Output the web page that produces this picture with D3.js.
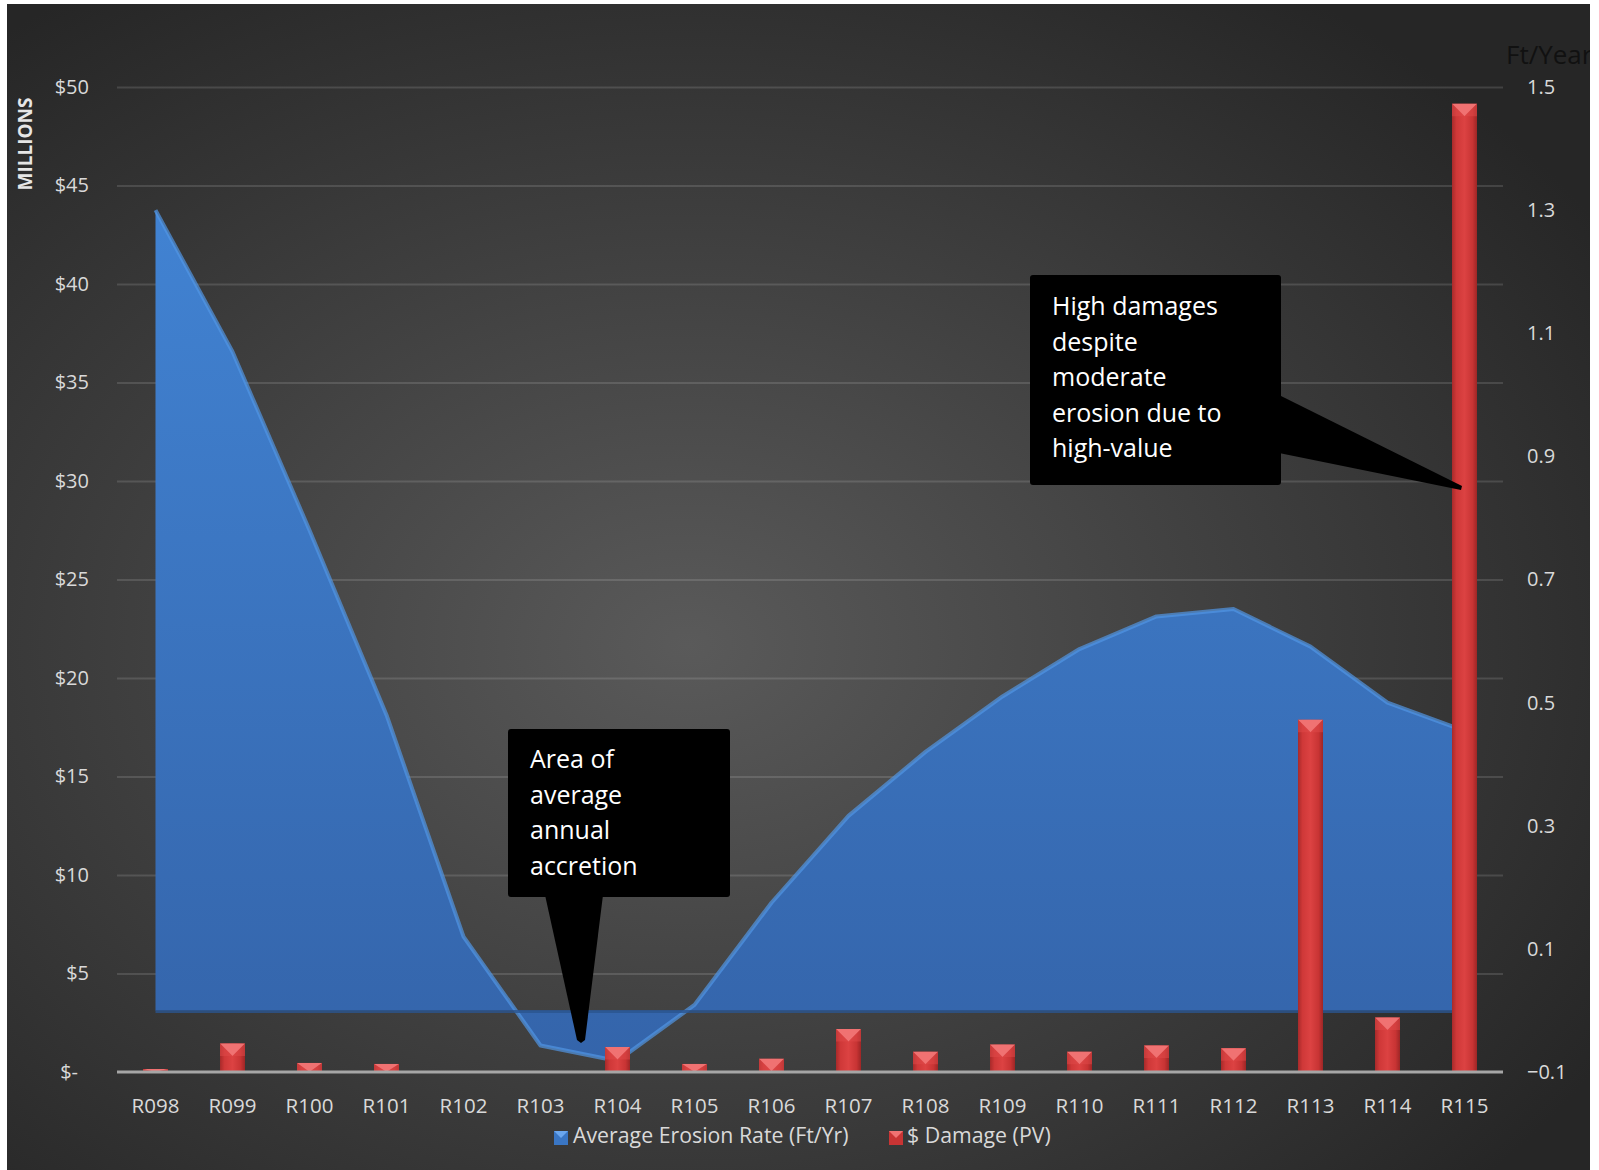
<!DOCTYPE html>
<html>
<head>
<meta charset="utf-8">
<script src="https://cdn.jsdelivr.net/npm/d3@7"></script>
<style>
  html, body { margin: 0; padding: 0; background: #fff; }
  svg text { font-family: "Open Sans", sans-serif; }
</style>
</head>
<body>
<div id="chart"></div>
<script>
// profiles along the beach
const profiles = ["R098", "R099", "R100", "R101", "R102", "R103", "R104", "R105", "R106",
                  "R107", "R108", "R109", "R110", "R111", "R112", "R113", "R114", "R115"];
// average erosion rate, ft/yr (right axis)
const erosionRate = [1.30, 1.07, 0.78, 0.48, 0.12, -0.057, -0.082, 0.009, 0.175,
                     0.316, 0.42, 0.51, 0.587, 0.64, 0.652, 0.591, 0.500, 0.454];
// $ damage, present value, millions (left axis)
const damage = [0.15, 1.45, 0.46, 0.41, 0, 0, 1.27, 0.41, 0.67,
                2.18, 1.03, 1.39, 1.03, 1.35, 1.21, 17.88, 2.77, 49.15];

const leftTicks = [0, 5, 10, 15, 20, 25, 30, 35, 40, 45, 50];
const rightTicks = [-0.1, 0.1, 0.3, 0.5, 0.7, 0.9, 1.1, 1.3, 1.5];
const seriesNames = ["Average Erosion Rate (Ft/Yr)", "$ Damage (PV)"];
const notes = [
  ["Area of", "average", "annual", "accretion"],
  ["High damages", "despite", "moderate", "erosion due to", "high-value"]
];

const width = 1599, height = 1170;
const m = { left: 117, right: 1503, top: 87, bottom: 1072 };

const svg = d3.select("#chart").append("svg")
  .attr("width", width)
  .attr("height", height);

const defs = svg.append("defs");

const bg = defs.append("radialGradient")
  .attr("id", "bg")
  .attr("cx", "43%").attr("cy", "55%").attr("r", "68%");
bg.append("stop").attr("offset", "0%").attr("stop-color", "#5a5a5a");
bg.append("stop").attr("offset", "100%").attr("stop-color", "#262626");

const areaGrad = defs.append("linearGradient")
  .attr("id", "areaGrad")
  .attr("gradientUnits", "userSpaceOnUse")
  .attr("x1", 0).attr("y1", m.top).attr("x2", 0).attr("y2", m.bottom);
areaGrad.append("stop").attr("offset", "0%").attr("stop-color", "#4387d8");
areaGrad.append("stop").attr("offset", "100%").attr("stop-color", "#3464aa");

const barGrad = defs.append("linearGradient")
  .attr("id", "barGrad")
  .attr("x1", 0).attr("y1", 0).attr("x2", 1).attr("y2", 0);
barGrad.append("stop").attr("offset", "0%").attr("stop-color", "#a82a2a");
barGrad.append("stop").attr("offset", "18%").attr("stop-color", "#cf3838");
barGrad.append("stop").attr("offset", "50%").attr("stop-color", "#dc4242");
barGrad.append("stop").attr("offset", "82%").attr("stop-color", "#c83434");
barGrad.append("stop").attr("offset", "100%").attr("stop-color", "#9e2626");

// chart background (white strips left, top, right like the source image)
svg.append("rect")
  .attr("x", 7).attr("y", 4)
  .attr("width", 1583).attr("height", height - 4)
  .attr("fill", "url(#bg)");

const x = d3.scaleBand().domain(profiles).range([m.left, m.right]).padding(0);
const yL = d3.scaleLinear().domain([0, 50]).range([m.bottom, m.top]);
const yR = d3.scaleLinear().domain([-0.1, 1.5]).range([m.bottom, m.top]);
const cx = d => x(d) + x.bandwidth() / 2;

// gridlines
svg.append("g")
  .attr("transform", `translate(${m.left},0)`)
  .call(d3.axisLeft(yL).tickValues(leftTicks.slice(1)).tickSize(-(m.right - m.left)).tickFormat(""))
  .call(g => g.select(".domain").remove())
  .call(g => g.selectAll("line").attr("stroke", "rgba(255,255,255,0.13)").attr("stroke-width", 2));

// erosion area
const area = d3.area()
  .x((d, i) => cx(profiles[i]))
  .y0(yR(0))
  .y1(d => yR(d));

svg.append("path")
  .datum(erosionRate)
  .attr("d", area)
  .attr("fill", "url(#areaGrad)");

svg.append("path")
  .datum(erosionRate)
  .attr("d", d3.line().x((d, i) => cx(profiles[i])).y(d => yR(d)))
  .attr("fill", "none")
  .attr("stroke", "#5196e4")
  .attr("stroke-width", 4)
  .attr("stroke-linejoin", "round")
  .attr("opacity", 0.7);

svg.append("line")
  .attr("x1", cx(profiles[0])).attr("x2", cx(profiles[profiles.length - 1]))
  .attr("y1", yR(0) + 1).attr("y2", yR(0) + 1)
  .attr("stroke", "#2b558f").attr("stroke-width", 3).attr("opacity", 0.8);

// damage bars
const bw = 25;
const bars = svg.append("g")
  .selectAll("g")
  .data(damage.map((v, i) => ({ p: profiles[i], v })).filter(d => d.v > 0))
  .join("g");

bars.append("rect")
  .attr("x", d => cx(d.p) - bw / 2)
  .attr("y", d => yL(d.v))
  .attr("width", bw)
  .attr("height", d => yL(0) - yL(d.v))
  .attr("fill", "url(#barGrad)");

bars.append("path")
  .attr("d", d => {
    const x0 = cx(d.p) - bw / 2, y0 = yL(d.v);
    const h = Math.min(bw / 2, yL(0) - y0);
    return `M${x0},${y0}L${x0 + bw},${y0}L${x0 + bw / 2},${y0 + h}Z`;
  })
  .attr("fill", "#f07272");

bars.append("path")
  .attr("d", d => {
    const x0 = cx(d.p) - bw / 2, y0 = yL(d.v);
    const h = Math.min(bw / 2, yL(0) - y0);
    return `M${x0},${y0}L${x0 + bw / 2},${y0 + h}L${x0 + bw},${y0}L${x0 + bw},${y0 + h}L${x0},${y0 + h}Z`;
  })
  .attr("fill", "#e04a4a")
  .attr("opacity", 0.5);

// zero line
svg.append("line")
  .attr("x1", m.left).attr("x2", m.right)
  .attr("y1", m.bottom).attr("y2", m.bottom)
  .attr("stroke", "#a6a6a6").attr("stroke-width", 3);

// axes
svg.append("g")
  .attr("transform", `translate(${m.left},0)`)
  .call(d3.axisLeft(yL).tickValues(leftTicks).tickSize(0).tickPadding(28)
    .tickFormat(d => d === 0 ? "$-" : "$" + d))
  .call(g => g.select(".domain").remove())
  .call(g => g.selectAll("text").attr("font-size", 20).attr("fill", "#d9d9d9")
    .attr("font-family", "Open Sans"))
  .call(g => g.selectAll("text").filter(d => d === 0).attr("dx", -11));

svg.append("g")
  .attr("transform", `translate(${m.right},0)`)
  .call(d3.axisRight(yR).tickValues(rightTicks).tickSize(0).tickPadding(24)
    .tickFormat(d3.format(".1f")))
  .call(g => g.select(".domain").remove())
  .call(g => g.selectAll("text").attr("font-size", 20).attr("fill", "#d9d9d9")
    .attr("font-family", "Open Sans"));

svg.append("g")
  .attr("transform", `translate(0,${m.bottom})`)
  .call(d3.axisBottom(x).tickSize(0).tickPadding(26))
  .call(g => g.select(".domain").remove())
  .call(g => g.selectAll("text").attr("font-size", 20.5).attr("fill", "#d9d9d9")
    .attr("font-family", "Open Sans"));

svg.append("text")
  .attr("transform", "translate(32,144) rotate(-90)")
  .attr("text-anchor", "middle")
  .attr("font-size", 19)
  .attr("font-weight", "bold")
  .attr("fill", "#e6e6e6")
  .text("MILLIONS");

svg.append("text")
  .attr("x", 1506).attr("y", 64)
  .attr("font-size", 26)
  .attr("fill", "#111")
  .text("Ft/Year");

// white strip on the right edge clips the axis title like in the source
svg.append("rect")
  .attr("x", 1590).attr("y", 0).attr("width", 9).attr("height", height)
  .attr("fill", "#fff");

// legend
const legend = svg.append("g");
const markers = [
  { x: 554, fill: "#3a76c4", hi: "#6aa6ee", tx: 573 },
  { x: 889, fill: "#c83434", hi: "#f07272", tx: 907 }
];
markers.forEach((mk, i) => {
  legend.append("rect").attr("x", mk.x).attr("y", 1131).attr("width", 14).attr("height", 14)
    .attr("fill", mk.fill);
  legend.append("path")
    .attr("d", `M${mk.x},1131L${mk.x + 14},1131L${mk.x + 7},1138Z`)
    .attr("fill", mk.hi);
  legend.append("text").attr("x", mk.tx).attr("y", 1143)
    .attr("font-size", 21.3).attr("fill", "#d9d9d9")
    .text(seriesNames[i]);
});

// callouts
function callout(box, pointer, lines, tx, ty) {
  const g = svg.append("g");
  g.append("path").attr("d", "M" + pointer.map(p => p.join(",")).join("L") + "Z").attr("fill", "#000");
  g.append("rect")
    .attr("x", box[0]).attr("y", box[1])
    .attr("width", box[2] - box[0]).attr("height", box[3] - box[1])
    .attr("rx", 3)
    .attr("fill", "#000");
  g.selectAll("text.note").data(lines).join("text")
    .attr("class", "note")
    .attr("x", tx)
    .attr("y", (d, i) => ty + i * 35.5)
    .attr("font-size", 25)
    .attr("fill", "#fff")
    .text(d => d);
}

callout([508, 729, 730, 897],
  [[545, 895], [603, 895], [585, 1040], [581, 1043], [577, 1040]],
  notes[0], 530, 768);

callout([1030, 275, 1281, 485],
  [[1279, 395], [1462, 486], [1461, 490], [1279, 453]],
  notes[1], 1052, 315);
</script>
</body>
</html>
